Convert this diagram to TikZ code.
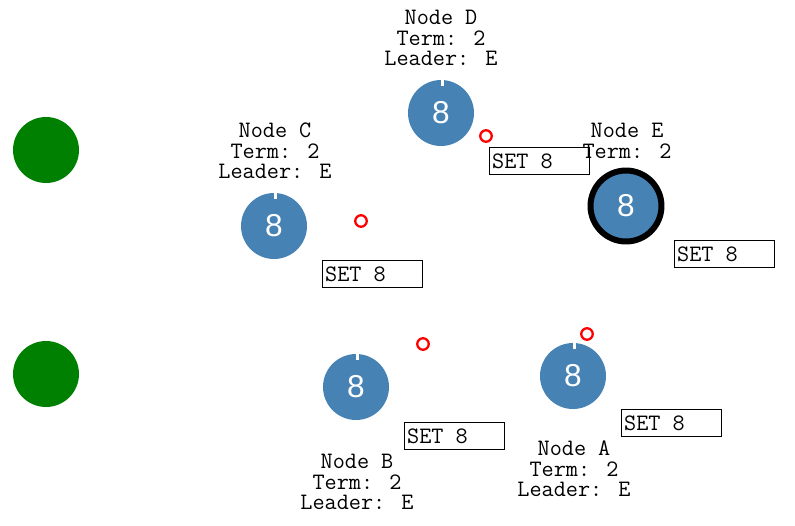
\documentclass[tikz,border=0pt]{standalone}
\usepackage{fontspec}
\usepackage{xcolor}
\newfontfamily\numfont{Liberation Sans}
\definecolor{steel}{HTML}{4682B4}
\definecolor{idlegreen}{HTML}{008000}

\begin{document}
\begin{tikzpicture}[x=0.02cm, y=-0.02cm,
    peer/.style={circle, fill=steel, minimum size=1.32cm, inner sep=0pt,
        text=white, font=\numfont\fontsize{18}{18}\selectfont},
    leadpeer/.style={peer, draw=black, line width=3.4pt, minimum size=1.42cm},
    idle/.style={circle, fill=idlegreen, minimum size=1.32cm, inner sep=0pt},
    ping/.style={circle, draw=red, line width=1.3pt, minimum size=0.23cm, inner sep=0pt},
    setbox/.style={draw, line width=0.8pt, anchor=north west, text width=1.9cm,
        inner xsep=0.05cm, minimum height=0.54cm, align=flush left,
        font=\ttfamily\fontsize{13.4}{13.4}\selectfont},
    info/.style={align=center, inner sep=0pt,
        font=\ttfamily\fontsize{13.4}{11.6}\selectfont}]

\useasboundingbox (0,0) rectangle (795,525);

% idle nodes on the left
\node[idle] (g1) at (46,150) {};
\node[idle] (g2) at (46,374) {};

% peers
\node[peer] (d) at (441,113) {8};
\node[peer] (c) at (274,226) {8};
\node[peer] (b) at (356,387) {8};
\node[peer] (a) at (573,376) {8};
\node[leadpeer] (e) at (626,206) {8};

\foreach \p in {a,b,c,d}
{
  \draw[white, line width=1.8pt] ([xshift=1pt]\p.north) -- ++(0,6);
}

% labels
\node[info] (dl) at (441,38) {Node D\\Term: 2\\Leader: E};
\node[info] (cl) at (275,151) {Node C\\Term: 2\\Leader: E};
\node[info] (el) at (627,141) {Node E\\Term: 2};
\node[info] (bl) at (357,482) {Node B\\Term: 2\\Leader: E};
\node[info] (al) at (574,469) {Node A\\Term: 2\\Leader: E};

% messages in flight
\node[ping] (dp) at (486,136) {};
\node[ping] (cp) at (361,221) {};
\node[ping] (bp) at (423,344) {};
\node[ping] (ap) at (587,334) {};

\node[setbox] (ds) at (489,147) {SET 8};
\node[setbox] (es) at (674,240) {SET 8};
\node[setbox] (cs) at (322,260) {SET 8};
\node[setbox] (bs) at (404,422) {SET 8};
\node[setbox] (as) at (621,409) {SET 8};

\end{tikzpicture}
\end{document}
